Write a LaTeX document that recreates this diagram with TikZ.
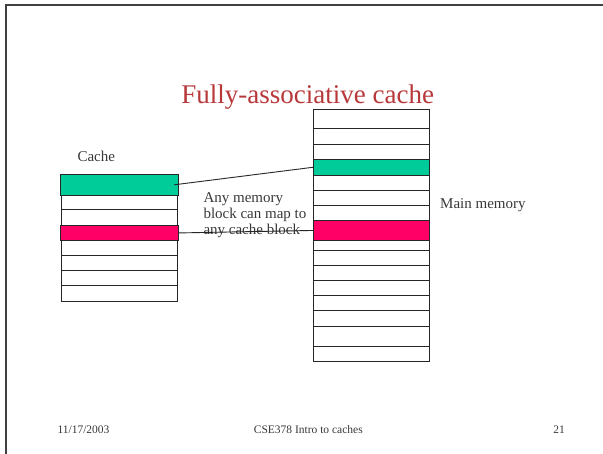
\documentclass[tikz,border=0pt]{standalone}
\usepackage{fontspec}
\setmainfont{Liberation Serif}
\usepackage{tikz}
\usetikzlibrary{positioning}
\definecolor{slidered}{HTML}{B8383A}
\definecolor{blkgreen}{HTML}{00CC99}
\definecolor{blkpink}{HTML}{FF0066}
\definecolor{txtgray}{HTML}{383838}
\tikzstyle{frame}=[draw=black!75,line width=2pt]
\tikzstyle{blk}=[draw=black!85,line width=0.9pt,rectangle,inner sep=0pt,anchor=north west]
\tikzstyle{cacherow}=[blk,minimum width=116.6pt]
\tikzstyle{memrow}=[blk,minimum width=115.7pt]
\tikzstyle{label}=[font=\fontsize{15}{16}\selectfont,text=txtgray,inner sep=0pt]
\tikzstyle{footer}=[font=\fontsize{11.5}{13}\selectfont,text=txtgray,inner sep=0pt,anchor=base]
\tikzstyle{map}=[draw=black!85,line width=0.9pt]

\begin{document}
\begin{tikzpicture}[x=1pt,y=-1pt]
\useasboundingbox (0,0) rectangle (603,454);
\draw[frame] (6,455) -- (6,5) -- (604,5);

\node[anchor=base,text=slidered,font=\fontsize{27}{30}\selectfont,inner sep=0pt] (title) at (307.7,104) {Fully-associative cache};

% cache
\node[label,anchor=base west] (cachelbl) at (77.3,161.7) {Cache};
\foreach \i/\t/\b in {1/174/194.7,2/194.7/209.3,3/209.3/225,4/225/240,5/240/255,6/255/270,7/270/285.3,8/285.3/300.7}
  \node[cacherow,minimum height={(\b-\t)*1pt}] (c\i) at (60.7,\t) {};
\fill[blkgreen,draw=black!85,line width=0.9pt] (c1.north west) rectangle (c1.south east);
\fill[blkpink,draw=black!85,line width=0.9pt] (c4.north west) rectangle (c4.south east);

% main memory
\foreach \i/\t/\b in {1/109/128.3,2/128.3/144,3/144/159.3,4/159.3/174.3,5/174.3/190,6/190/205,7/205/220,8/220/240,9/240/250,10/250/265,11/265/280,12/280/295,13/295/310.3,14/310.3/326,15/326/345.7,16/345.7/360.7}
  \node[memrow,minimum height={(\b-\t)*1pt}] (m\i) at (313.3,\t) {};
\fill[blkgreen,draw=black!85,line width=0.9pt] (m4.north west) rectangle (m4.south east);
\fill[blkpink,draw=black!85,line width=0.9pt] (m8.north west) rectangle (m8.south east);
\node[label,anchor=base west] (memlbl) at (440,208.3) {Main memory};

% last line sits on the base anchor
\node[label,anchor=base west,align=left] (anytxt) at (203.3,235) {Any memory\\block can map to\\any cache block};

\draw[map] ([xshift=-4pt]c1.east) -- (m4.west);
\draw[map] (c4.east) -- (m8.west);

% footer
\node[footer,anchor=base west] (date) at (57.3,433.3) {11/17/2003};
\node[footer] (course) at (308.3,433.3) {CSE378 Intro to caches};
\node[footer,anchor=base east] (pgno) at (565,433.3) {21};
\end{tikzpicture}
\end{document}
